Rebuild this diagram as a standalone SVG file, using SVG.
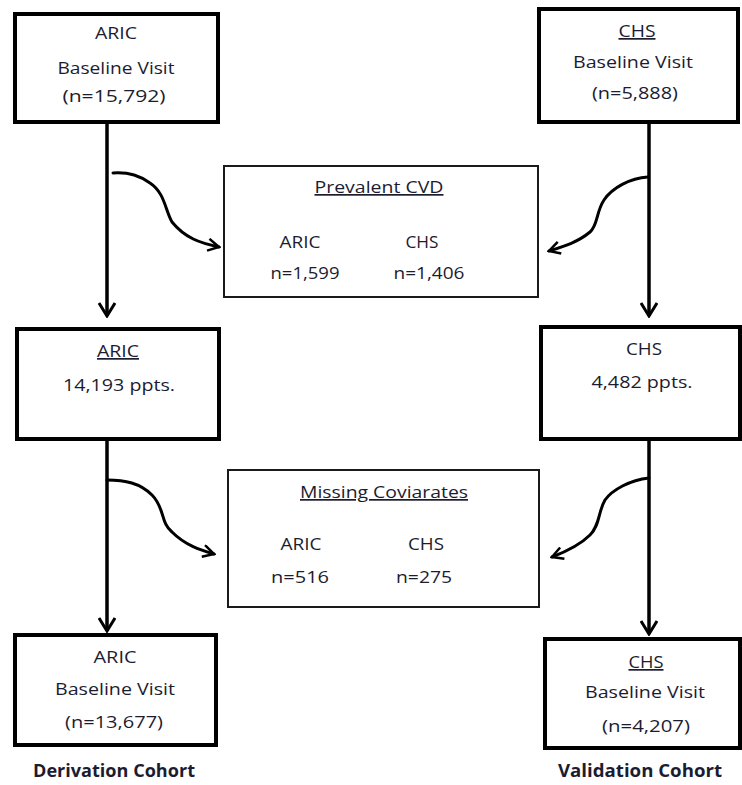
<svg xmlns="http://www.w3.org/2000/svg" width="742" height="785" viewBox="0 0 742 785">
<defs>
<style>
.box{fill:#fff;stroke:#000;stroke-width:4}
.thin{fill:#fff;stroke:#1a1a1a;stroke-width:2}
text{font-family:"Open Sans","Liberation Sans",sans-serif;font-size:17px;fill:#1c1c30;text-anchor:middle}
.u{text-decoration:underline}
.b{font-weight:bold}
.ln{fill:none;stroke:#000;stroke-width:3.5}
.cv{fill:none;stroke:#000;stroke-width:3;stroke-linecap:round}
</style>
<marker id="ah" viewBox="0 0 16 18" refX="14" refY="9" markerWidth="16" markerHeight="18" markerUnits="userSpaceOnUse" orient="auto">
<path d="M1,1 L14,9 L1,17" fill="none" stroke="#000" stroke-width="3"/>
</marker>
<marker id="ac" viewBox="0 0 14 14" refX="12" refY="7" markerWidth="14" markerHeight="14" markerUnits="userSpaceOnUse" orient="auto">
<path d="M1,1 L12,7 L1,13" fill="none" stroke="#000" stroke-width="2.5"/>
</marker>
</defs>
<rect width="742" height="785" fill="#fff"/>

<g id="connectors">
<line class="ln" x1="107" y1="124" x2="107" y2="316" marker-end="url(#ah)"/>
<line class="ln" x1="107" y1="441" x2="107" y2="631" marker-end="url(#ah)"/>
<line class="ln" x1="649" y1="124" x2="649" y2="316" marker-end="url(#ah)"/>
<line class="ln" x1="649" y1="441" x2="649" y2="634" marker-end="url(#ah)"/>
<path class="cv" d="M113,173 C130,172 140,176 150,183 C165,193 165,210 172,222 C185,238 200,243 219,247" marker-end="url(#ac)"/>
<path class="cv" d="M648,177 C630,178 612,188 604,200 C596,212 598,225 590,232 C578,242 565,246 549,251" marker-end="url(#ac)"/>
<path class="cv" d="M107,480 C125,480 140,483 152,495 C165,508 160,522 172,532 C185,545 200,550 214,554" marker-end="url(#ac)"/>
<path class="cv" d="M649,478 C630,480 612,490 605,500 C598,512 600,525 590,535 C580,545 565,552 552,557" marker-end="url(#ac)"/>
</g>

<g id="aric-baseline">
<rect class="box" x="15" y="14" width="203" height="108"/>
<text x="116" y="39" textLength="42" lengthAdjust="spacingAndGlyphs">ARIC</text>
<text x="116" y="74" textLength="117" lengthAdjust="spacingAndGlyphs">Baseline Visit</text>
<text x="114" y="102" textLength="103" lengthAdjust="spacingAndGlyphs">(n=15,792)</text>
</g>

<g id="chs-baseline">
<rect class="box" x="539" y="9" width="199" height="113"/>
<text class="u" x="637" y="37" textLength="37" lengthAdjust="spacingAndGlyphs">CHS</text>
<text x="633" y="68" textLength="120" lengthAdjust="spacingAndGlyphs">Baseline Visit</text>
<text x="635" y="99" textLength="86" lengthAdjust="spacingAndGlyphs">(n=5,888)</text>
</g>

<g id="prevalent-cvd">
<rect class="thin" x="224" y="166" width="314" height="131"/>
<text class="u" x="379" y="193" textLength="129" lengthAdjust="spacingAndGlyphs">Prevalent CVD</text>
<text x="300" y="248" textLength="41" lengthAdjust="spacingAndGlyphs">ARIC</text>
<text x="422" y="248" textLength="33" lengthAdjust="spacingAndGlyphs">CHS</text>
<text x="305" y="279" textLength="69" lengthAdjust="spacingAndGlyphs">n=1,599</text>
<text x="429" y="279" textLength="71" lengthAdjust="spacingAndGlyphs">n=1,406</text>
</g>

<g id="aric-ppts">
<rect class="box" x="17" y="329" width="202" height="110"/>
<text class="u" x="118" y="357" textLength="42" lengthAdjust="spacingAndGlyphs">ARIC</text>
<text x="119" y="391" textLength="112" lengthAdjust="spacingAndGlyphs">14,193 ppts.</text>
</g>

<g id="chs-ppts">
<rect class="box" x="541" y="327" width="199" height="112"/>
<text x="644" y="355" textLength="36" lengthAdjust="spacingAndGlyphs">CHS</text>
<text x="642" y="388" textLength="101" lengthAdjust="spacingAndGlyphs">4,482 ppts.</text>
</g>

<g id="missing-covariates">
<rect class="thin" x="228" y="470" width="311" height="137"/>
<text class="u" x="384" y="498" textLength="168" lengthAdjust="spacingAndGlyphs">Missing Coviarates</text>
<text x="301" y="550" textLength="41" lengthAdjust="spacingAndGlyphs">ARIC</text>
<text x="426" y="550" textLength="36" lengthAdjust="spacingAndGlyphs">CHS</text>
<text x="300" y="583" textLength="58" lengthAdjust="spacingAndGlyphs">n=516</text>
<text x="424" y="583" textLength="56" lengthAdjust="spacingAndGlyphs">n=275</text>
</g>

<g id="aric-derivation">
<rect class="box" x="15" y="635" width="201" height="110"/>
<text x="115" y="663" textLength="43" lengthAdjust="spacingAndGlyphs">ARIC</text>
<text x="115" y="695" textLength="120" lengthAdjust="spacingAndGlyphs">Baseline Visit</text>
<text x="114" y="728" textLength="98" lengthAdjust="spacingAndGlyphs">(n=13,677)</text>
<text class="b" x="114" y="777" textLength="162" lengthAdjust="spacingAndGlyphs">Derivation Cohort</text>
</g>

<g id="chs-validation">
<rect class="box" x="545" y="639" width="195" height="109"/>
<text class="u" x="646" y="668" textLength="35" lengthAdjust="spacingAndGlyphs">CHS</text>
<text x="645" y="698" textLength="120" lengthAdjust="spacingAndGlyphs">Baseline Visit</text>
<text x="646" y="732" textLength="88" lengthAdjust="spacingAndGlyphs">(n=4,207)</text>
<text class="b" x="640" y="777" textLength="164" lengthAdjust="spacingAndGlyphs">Validation Cohort</text>
</g>
</svg>
